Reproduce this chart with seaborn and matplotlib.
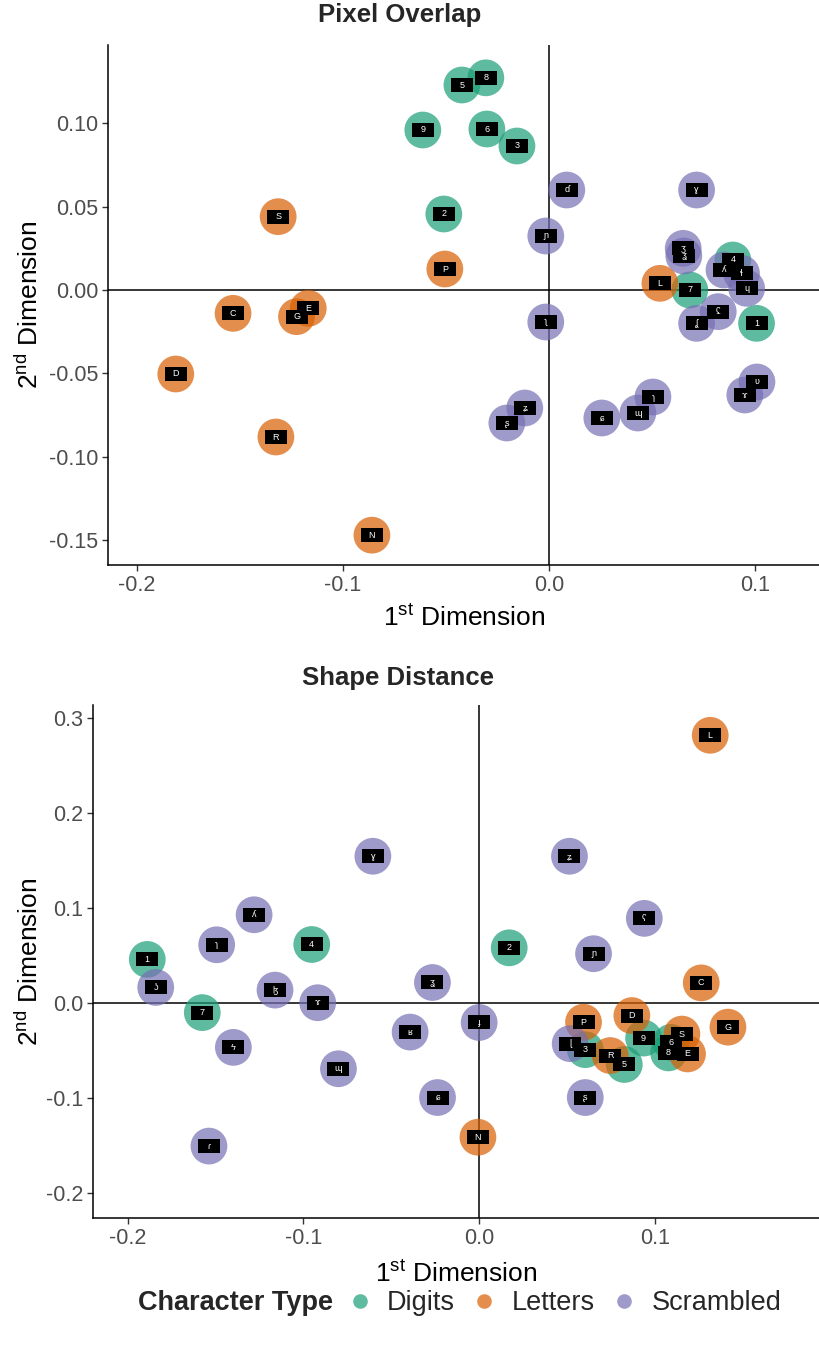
import matplotlib
matplotlib.use("Agg")
import matplotlib.pyplot as plt
from matplotlib.lines import Line2D
import numpy as np
import pandas as pd
import seaborn as sns

# ---------------- data ----------------
type_order = ["Digits", "Letters", "Scrambled"]

# Panel 1: Pixel Overlap
pixel_labels = ["5", "8", "9", "6", "3", "2", "7", "1", "4",
                "S", "C", "G", "E", "P", "D", "R", "N", "L",
                "ɗ", "ɲ", "ʅ", "ɣ", "ʒ", "ʓ", "ʎ", "ɬ", "ɥ", "ʢ", "ʆ",
                "ʂ", "ʑ", "ɕ", "ɰ", "ɿ", "ɤ", "ʋ"]
pixel_type = ["Digits"] * 9 + ["Letters"] * 9 + ["Scrambled"] * 18
pixel_x = [-0.0422, -0.0306, -0.0612, -0.0301, -0.0155, -0.0510, 0.0684, 0.1008, 0.0893,
           -0.1314, -0.1533, -0.1225, -0.1168, -0.0505, -0.1811, -0.1325, -0.0859, 0.0539,
           0.0087, -0.0015, -0.0015, 0.0717, 0.0652, 0.0655, 0.0850, 0.0935, 0.0960,
           0.0822, 0.0717, -0.0204, -0.0117, 0.0257, 0.0432, 0.0505, 0.0951, 0.1010]
pixel_y = [0.1230, 0.1273, 0.0960, 0.0966, 0.0864, 0.0456, 0.0000, -0.0200, 0.0180,
           0.0440, -0.0140, -0.0160, -0.0110, 0.0126, -0.0504, -0.0882, -0.1471, 0.0040,
           0.0600, 0.0324, -0.0192, 0.0600, 0.0250, 0.0204, 0.0120, 0.0100, 0.0010,
           -0.0130, -0.0200, -0.0798, -0.0708, -0.0768, -0.0738, -0.0642, -0.0630, -0.0552]

# Panel 2: Shape Distance
shape_labels = ["1", "7", "4", "2", "9", "3", "5", "6", "8",
                "L", "C", "G", "D", "P", "R", "S", "E", "N",
                "ʖ", "ɿ", "ʎ", "ɮ", "ɤ", "ϟ", "ɰ", "ɾ", "ɣ", "ʓ", "ʁ",
                "ɟ", "ɕ", "ʑ", "ʕ", "ɲ", "ɭ", "ʂ"]
shape_type = ["Digits"] * 9 + ["Letters"] * 9 + ["Scrambled"] * 18
shape_x = [-0.1889, -0.1576, -0.0953, 0.0171, 0.0936, 0.0604, 0.0826, 0.1092, 0.1078,
           0.1315, 0.1264, 0.1416, 0.0869, 0.0594, 0.0746, 0.1154, 0.1186, -0.0007,
           -0.1841, -0.1494, -0.1281, -0.1162, -0.0919, -0.1399, -0.0801, -0.1538,
           -0.0605, -0.0266, -0.0393, 0.0000, -0.0237, 0.0514, 0.0940, 0.0651, 0.0518, 0.0604]
shape_y = [0.0459, -0.0101, 0.0616, 0.0581, -0.0369, -0.0491, -0.0647, -0.0414, -0.0525,
           0.2818, 0.0212, -0.0254, -0.0132, -0.0202, -0.0553, -0.0327, -0.0536, -0.1413,
           0.0164, 0.0613, 0.0929, 0.0136, 0.0003, -0.0467, -0.0692, -0.1506,
           0.1545, 0.0216, -0.0306, -0.0205, -0.0995, 0.1545, 0.0891, 0.0519, -0.0428, -0.0995]

pixel_xticks = [-0.2, -0.1, 0.0, 0.1]
pixel_yticks = [-0.15, -0.10, -0.05, 0.00, 0.05, 0.10]
shape_xticks = [-0.2, -0.1, 0.0, 0.1]
shape_yticks = [-0.2, -0.1, 0.0, 0.1, 0.2, 0.3]

# ---------------- style ----------------
sns.set_theme(style="ticks")
plt.rcParams['font.family'] = ['Liberation Sans', 'DejaVu Sans']
plt.rcParams['mathtext.fontset'] = 'custom'
plt.rcParams['mathtext.rm'] = 'Liberation Sans'
plt.rcParams['mathtext.it'] = 'Liberation Sans:italic'
plt.rcParams['axes.unicode_minus'] = False

palette = dict(zip(type_order, sns.color_palette("Dark2", 3)))
W, H = 820, 1347
fig = plt.figure(figsize=(W / 100, H / 100), dpi=100)

rect_marker = [(-11, -7), (11, -7), (11, 7), (-11, 7), (-11, -7)]


def panel(ax, labels, types, xs, ys, xlim, ylim, xticks, yticks, yfmt, xpad, ypad):
    df = pd.DataFrame({"x": xs, "y": ys, "type": types, "label": labels})
    ax.axhline(0, color="black", lw=1.1, zorder=1)
    ax.axvline(0, color="black", lw=1.1, zorder=1)
    sns.scatterplot(data=df, x="x", y="y", hue="type", hue_order=type_order,
                    palette=palette, s=700, alpha=0.7, linewidth=0,
                    legend=False, ax=ax, zorder=2)
    sns.scatterplot(data=df, x="x", y="y", color="black", marker=rect_marker,
                    s=251, linewidth=0, legend=False, ax=ax, zorder=3)
    for _, r in df.iterrows():
        ax.text(r["x"], r["y"], r["label"], color="white", fontsize=6.5,
                ha="center", va="center", zorder=4,
                family=['Liberation Sans', 'DejaVu Sans'])
    ax.set_xlim(*xlim)
    ax.set_ylim(*ylim)
    ax.set_xticks(xticks)
    ax.set_xticklabels([f"{t:.1f}" for t in xticks])
    ax.set_yticks(yticks)
    ax.set_yticklabels([yfmt.format(t) for t in yticks])
    ax.tick_params(axis="both", labelsize=15.5, labelcolor="#4D4D4D",
                   color="#333333", length=4, width=1, pad=3)
    for s in ["top", "right"]:
        ax.spines[s].set_visible(False)
    for s in ["left", "bottom"]:
        ax.spines[s].set_color("black")
        ax.spines[s].set_linewidth(1.1)
    ax.set_xlabel(r"1$^{\rm st}$ Dimension", fontsize=19, color="black", labelpad=xpad)
    ax.set_ylabel(r"2$^{\rm nd}$ Dimension", fontsize=19, color="black", labelpad=ypad)
    ax.set_facecolor("white")


ax1 = fig.add_axes([108 / W, 1 - 565 / H, 712 / W, 520 / H])
panel(ax1, pixel_labels, pixel_type, pixel_x, pixel_y,
      (-0.214, 0.1316), (-0.165, 0.147), pixel_xticks, pixel_yticks, "{:.2f}", 6.5, 4)

ax2 = fig.add_axes([93 / W, 1 - 1218 / H, 727 / W, 513 / H])
panel(ax2, shape_labels, shape_type, shape_x, shape_y,
      (-0.2198, 0.194), (-0.2263, 0.3137), shape_xticks, shape_yticks, "{:.1f}", 8.5, 2)

fig.text(400 / W, 1 - 15 / H, "Pixel Overlap", fontsize=18.5, fontweight="bold",
         ha="center", va="center")
fig.text(398 / W, 1 - 678 / H, "Shape Distance", fontsize=18.5, fontweight="bold",
         ha="center", va="center")

# legend
ly = 1 - 1303 / H
fig.text(333 / W, ly, "Character Type", fontsize=19.5, fontweight="bold",
         ha="right", va="center")
handles = [Line2D([], [], marker="o", ls="", markersize=10.5, markeredgewidth=0,
                  color=palette[t], alpha=0.7) for t in type_order]
fig.legend(handles, type_order, loc="center left", bbox_to_anchor=(346 / W, ly),
           ncol=3, frameon=False, fontsize=19.5, handletextpad=0.5,
           columnspacing=0.6, handlelength=1.0, borderpad=0, borderaxespad=0)

fig.savefig("out.png", dpi=100, facecolor="white")
